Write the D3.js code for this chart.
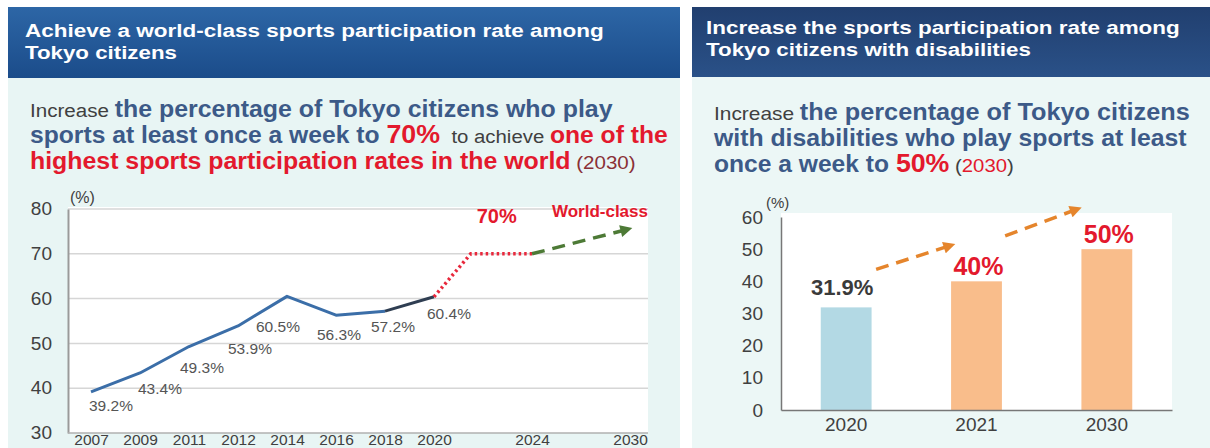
<!DOCTYPE html>
<html>
<head>
<meta charset="utf-8">
<script src="https://cdn.jsdelivr.net/npm/d3@7"></script>
<style>
  body { margin: 0; background: #fff; }
  svg { display: block; font-family: "Liberation Sans", Arial, sans-serif; }
</style>
</head>
<body>
<svg id="chart" width="1210" height="448"></svg>
<script>
// ---- left chart: participation rate, Tokyo citizens ----
var yearSlots = ["2007", "2009", "2011", "2012", "2014", "2016", "2018", "2020", "", "2024", "", "2030"];
var rates = [39.2, 43.4, 49.3, 53.9, 60.5, 56.3, 57.2, 60.4];
var rateLabels = ["39.2%", "43.4%", "49.3%", "53.9%", "60.5%", "56.3%", "57.2%", "60.4%"];
var targetLine = [[7, 60.4], [7.75, 70], [9, 70]];   // [slot, value]
var worldLine = [[9, 70], [11, 75.6]];
var leftTicks = [30, 40, 50, 60, 70, 80];
// label placement tweaks (px, relative to each point)
var labelNudge = [[-2, 19], [-2, 21], [-9, 26], [-10, 28], [-31, 36], [-19, 25], [-14, 21], [-7, 22]];

// ---- right chart: participation rate, citizens with disabilities ----
var barYears = ["2020", "2021", "2030"];
var barValues = [31.9, 40, 50];
var barLabels = ["31.9%", "40%", "50%"];
var rightTicks = [0, 10, 20, 30, 40, 50, 60];
var trendArrows = [[[0.73, 43.7], [1.32, 51.4]], [[1.72, 54.1], [2.29, 62.7]]];  // [slot, value]

var svg = d3.select("#chart");
var defs = svg.append("defs");

function grad(id, c1, c2) {
  var g = defs.append("linearGradient").attr("id", id).attr("x1", 0).attr("y1", 0).attr("x2", 0).attr("y2", 1);
  g.append("stop").attr("offset", "0%").attr("stop-color", c1);
  g.append("stop").attr("offset", "100%").attr("stop-color", c2);
}
grad("hdrL", "#2d66a6", "#1b4c8a");
grad("hdrR", "#213f6f", "#2a5188");

function marker(id, color) {
  defs.append("marker").attr("id", id)
    .attr("viewBox", "0 0 10 10").attr("refX", 8).attr("refY", 5)
    .attr("markerWidth", 14).attr("markerHeight", 12)
    .attr("markerUnits", "userSpaceOnUse").attr("orient", "auto")
    .append("path").attr("d", "M0,0L10,5L0,10Z").attr("fill", color);
}
marker("arrGreen", "#4d7a36");
marker("arrOrange", "#e5852c");

// panels
svg.append("rect").attr("x", 8).attr("y", 78).attr("width", 672).attr("height", 370).attr("fill", "#e8f5f4");
svg.append("rect").attr("x", 692).attr("y", 77).attr("width", 518).attr("height", 371).attr("fill", "#ecf7f6");
svg.append("rect").attr("x", 8).attr("y", 7).attr("width", 672).attr("height", 71).attr("fill", "url(#hdrL)");
svg.append("rect").attr("x", 692).attr("y", 7).attr("width", 518).attr("height", 70).attr("fill", "url(#hdrR)");

var styles = {
  head: { size: 19, weight: "bold", fill: "#fff" },
  plain: { size: 19, weight: "normal", fill: "#404040" },
  blue: { size: 23, weight: "bold", fill: "#3c5a88" },
  red: { size: 23, weight: "bold", fill: "#e3192d" },
  big: { size: 25, weight: "bold", fill: "#e3192d" },
  year: { size: 19, weight: "normal", fill: "#8a3036" },
  redThin: { size: 19, weight: "normal", fill: "#e3192d" }
};

// one line of mixed runs, stretched to the width it takes in the reference
function textLine(x, y, width, runs) {
  var t = svg.append("text").attr("x", x).attr("y", y);
  runs.forEach(function (r) {
    var s = styles[r[1]];
    t.append("tspan").text(r[0]).attr("font-size", s.size).attr("font-weight", s.weight).attr("fill", s.fill)
      .attr("xml:space", "preserve");
  });
  var w = t.node().getComputedTextLength();
  t.attr("transform", "translate(" + x + ",0) scale(" + (width / w) + ",1) translate(" + (-x) + ",0)");
  return t;
}

textLine(25, 37, 579, [["Achieve a world-class sports participation rate among", "head"]]);
textLine(25, 59, 152, [["Tokyo citizens", "head"]]);
textLine(706, 34, 474, [["Increase the sports participation rate among", "head"]]);
textLine(706, 56, 325, [["Tokyo citizens with disabilities", "head"]]);

textLine(30, 117, 583, [["Increase ", "plain"], ["the percentage of Tokyo citizens who play", "blue"]]);
textLine(30, 143, 638, [["sports at least once a week to ", "blue"], ["70%", "big"], ["  to achieve ", "plain"], ["one of the", "red"]]);
textLine(30, 169, 606, [["highest sports participation rates in the world", "red"], [" (2030)", "year"]]);

textLine(714, 120, 476, [["Increase ", "plain"], ["the percentage of Tokyo citizens", "blue"]]);
textLine(714, 146, 473, [["with disabilities who play sports at least", "blue"]]);
textLine(714, 172, 300, [["once a week to ", "blue"], ["50%", "big"], [" (", "plain"], ["2030", "redThin"], [")", "plain"]]);

// ---------- left line chart ----------
var xL = d3.scaleLinear().domain([0, yearSlots.length - 1]).range([91, 630]);
var yL = d3.scaleLinear().domain([30, 80]).range([433, 209]);
var plotL = { x0: 68, x1: 648 };

svg.append("rect").attr("x", plotL.x0).attr("y", yL(80) - 2).attr("width", plotL.x1 - plotL.x0)
  .attr("height", yL(30) - yL(80) + 2).attr("fill", "#fff");

svg.append("g").selectAll("line").data(leftTicks.slice(1)).join("line")
  .attr("x1", plotL.x0).attr("x2", plotL.x1).attr("y1", d => yL(d)).attr("y2", d => yL(d))
  .attr("stroke", "#d6d6d6").attr("stroke-width", 1.5);

var axL = svg.append("g").attr("transform", "translate(" + plotL.x0 + ",0)")
  .call(d3.axisLeft(yL).tickValues(leftTicks).tickSize(0).tickPadding(16));
axL.select(".domain").attr("stroke", "#9a9a9a").attr("stroke-width", 2);
axL.selectAll("text").attr("font-size", 19).attr("fill", "#404040").attr("font-family", null).attr("dy", "0.3em");

var axLb = svg.append("g").attr("transform", "translate(0," + yL(30) + ")")
  .call(d3.axisBottom(xL).tickValues(d3.range(yearSlots.length)).tickFormat(i => yearSlots[i]).tickSize(0).tickPadding(1));
axLb.select(".domain").attr("d", "M" + plotL.x0 + ",0H" + plotL.x1).attr("stroke", "#b0b0b0").attr("stroke-width", 1.5);
axLb.selectAll("text").attr("font-size", 15.5).attr("fill", "#404040").attr("font-family", null);

svg.append("text").attr("x", 70).attr("y", 203).attr("font-size", 16).attr("fill", "#404040").text("(%)");

var pts = rates.map((v, i) => [xL(i), yL(v)]);
var line = d3.line();
svg.append("path").attr("d", line(pts.slice(0, 7))).attr("fill", "none")
  .attr("stroke", "#3b6ea8").attr("stroke-width", 3).attr("stroke-linejoin", "round");
svg.append("path").attr("d", line(pts.slice(6))).attr("fill", "none")
  .attr("stroke", "#2f3e52").attr("stroke-width", 3);

var scaled = d => [xL(d[0]), yL(d[1])];
svg.append("path").attr("d", line(targetLine.map(scaled))).attr("fill", "none")
  .attr("stroke", "#e8283c").attr("stroke-width", 3.5).attr("stroke-dasharray", "2.5,3");
svg.append("path").attr("d", line(worldLine.map(scaled))).attr("fill", "none")
  .attr("stroke", "#4d7a36").attr("stroke-width", 3.5).attr("stroke-dasharray", "13,8")
  .attr("marker-end", "url(#arrGreen)");

svg.append("g").selectAll("text").data(rates).join("text")
  .attr("x", (d, i) => xL(i) + labelNudge[i][0]).attr("y", (d, i) => yL(d) + labelNudge[i][1])
  .attr("font-size", 15.5).attr("fill", "#555").text((d, i) => rateLabels[i]);

var tgt = scaled(targetLine[1]);
svg.append("text").attr("x", tgt[0] + 26).attr("y", tgt[1] - 31).attr("text-anchor", "middle")
  .attr("font-size", 20).attr("font-weight", "bold").attr("fill", "#e3192d").text("70%");
var wEnd = scaled(worldLine[1]);
svg.append("text").attr("x", wEnd[0] + 18).attr("y", wEnd[1] - 12).attr("text-anchor", "end")
  .attr("font-size", 17).attr("font-weight", "bold").attr("fill", "#e3192d").text("World-class");

// ---------- right bar chart ----------
var xR = d3.scaleBand().domain(barYears).range([781, 1172]);
var xSlot = d3.scaleLinear().domain([0, barYears.length]).range([781, 1172]);
var yR = d3.scaleLinear().domain([0, 60]).range([410, 217]);

svg.append("rect").attr("x", 781).attr("y", yR(60) - 4).attr("width", 1172 - 781)
  .attr("height", yR(0) - yR(60) + 4).attr("fill", "#fff");

var barW = xR.bandwidth() * 0.39;
svg.append("g").selectAll("rect").data(barValues).join("rect")
  .attr("x", (d, i) => xR(barYears[i]) + xR.bandwidth() / 2 - barW / 2)
  .attr("y", d => yR(d)).attr("width", barW).attr("height", d => yR(0) - yR(d))
  .attr("fill", (d, i) => i === 0 ? "#b3d9e4" : "#f9bd8b");

var axR = svg.append("g").attr("transform", "translate(781,0)")
  .call(d3.axisLeft(yR).tickValues(rightTicks).tickSize(0).tickPadding(18));
axR.select(".domain").attr("stroke", "#777").attr("stroke-width", 1.5);
axR.selectAll("text").attr("font-size", 19).attr("fill", "#404040").attr("font-family", null);

var axRb = svg.append("g").attr("transform", "translate(0," + yR(0) + ")")
  .call(d3.axisBottom(xR).tickSize(0).tickPadding(8));
axRb.select(".domain").attr("stroke", "#777").attr("stroke-width", 1.5);
axRb.selectAll("text").attr("font-size", 19).attr("fill", "#404040").attr("font-family", null);

svg.append("text").attr("x", 766).attr("y", 208).attr("font-size", 15).attr("fill", "#404040").text("(%)");

svg.append("g").selectAll("text").data(barValues).join("text")
  .attr("x", (d, i) => xR(barYears[i]) + xR.bandwidth() / 2 + (i === 0 ? -4 : 2))
  .attr("y", (d, i) => yR(d) - (i === 0 ? 12 : 6))
  .attr("text-anchor", "middle").attr("font-weight", "bold")
  .attr("font-size", (d, i) => i === 0 ? 22 : 25)
  .attr("fill", (d, i) => i === 0 ? "#3a3a3a" : "#e3192d")
  .text((d, i) => barLabels[i]);

svg.append("g").selectAll("path").data(trendArrows).join("path")
  .attr("d", a => line(a.map(p => [xSlot(p[0]), yR(p[1])])))
  .attr("fill", "none").attr("stroke", "#e5852c").attr("stroke-width", 3.5)
  .attr("stroke-dasharray", "13,8").attr("marker-end", "url(#arrOrange)");
</script>
</body>
</html>
